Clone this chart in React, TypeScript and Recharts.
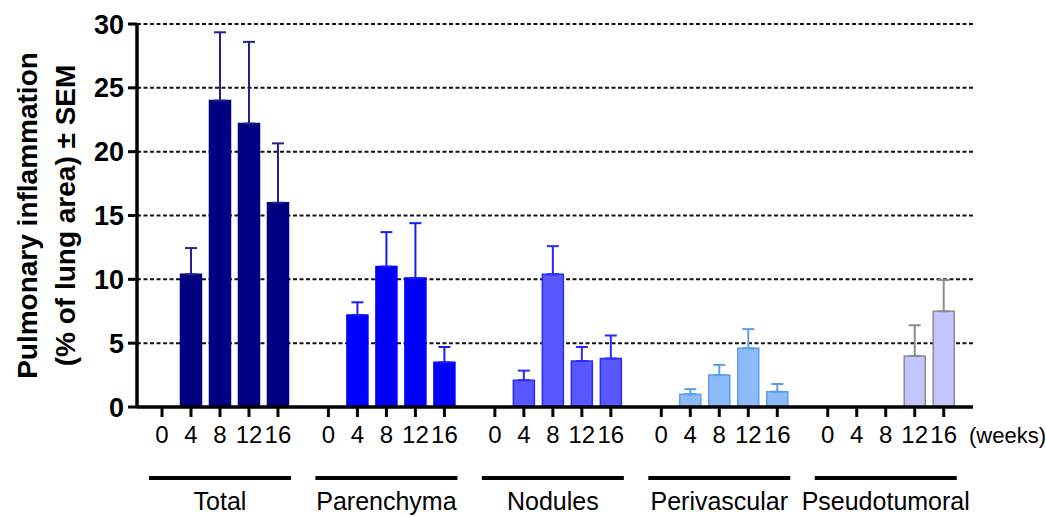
import React from "react";
import { BarChart, Bar, Cell, XAxis, YAxis, CartesianGrid, ErrorBar } from "recharts";

const weeks = ["0", "4", "8", "12", "16"];
const groups = ["Total", "Parenchyma", "Nodules", "Perivascular", "Pseudotumoral"];

// mean % of lung area, and SEM (upper error only)
const totalMean = [0, 10.4, 24.0, 22.2, 16.0];
const totalSem = [0, 2.05, 5.35, 6.4, 4.65];
const parenchymaMean = [0, 7.2, 11.0, 10.1, 3.5];
const parenchymaSem = [0, 1.0, 2.7, 4.3, 1.2];
const nodulesMean = [0, 2.1, 10.4, 3.6, 3.8];
const nodulesSem = [0, 0.75, 2.2, 1.1, 1.8];
const perivascularMean = [0, 1.0, 2.5, 4.6, 1.2];
const perivascularSem = [0, 0.4, 0.8, 1.5, 0.6];
const pseudotumoralMean = [0, 0, 0, 4.0, 7.5];
const pseudotumoralSem = [0, 0, 0, 2.4, 2.45];

const yTicks = [0, 5, 10, 15, 20, 25, 30];

const COLORS = [
  { fill: "#000080", stroke: "#000080", err: "#22228f" },
  { fill: "#0000ff", stroke: "#0000ff", err: "#1a1aff" },
  { fill: "#5858ff", stroke: "#2a2aff", err: "#2a2aff" },
  { fill: "#8dbaf8", stroke: "#5a9ef0", err: "#5a9ef0" },
  { fill: "#c4c4ff", stroke: "#8a8a98", err: "#8c8c8c" },
];

const means = [totalMean, parenchymaMean, nodulesMean, perivascularMean, pseudotumoralMean];
const sems = [totalSem, parenchymaSem, nodulesSem, perivascularSem, pseudotumoralSem];

// slots per group (5 bars + gap)
const STEP = 5.74;

const data = groups.flatMap((g, gi) =>
  weeks.map((w, wi) => {
    const row: any = { pos: gi * STEP + wi, week: w, group: g, gi, value: means[gi][wi] };
    if (sems[gi][wi] > 0) row["err" + gi] = [0, sems[gi][wi]];
    return row;
  })
);

const weekTicks = data.map((d) => d.pos);
const weekByPos = new Map(data.map((d) => [d.pos, d.week]));
const groupTicks = groups.map((_, gi) => gi * STEP + 2);
const groupByPos = new Map(groups.map((g, gi) => [gi * STEP + 2, g]));
const DOMAIN: [number, number] = [-0.862, 27.97];

const FONT = "Liberation Sans, Arial, sans-serif";

function GroupTick(props: any) {
  const { x, y, payload } = props;
  return (
    <g>
      <line x1={x - 71} x2={x + 71} y1={y + 26} y2={y + 26} stroke="#000" strokeWidth={4} />
      <text x={x} y={y + 58} textAnchor="middle" fontSize={25} fontFamily={FONT} fill="#000">
        {groupByPos.get(payload.value)}
      </text>
    </g>
  );
}

function YTitle(props: any) {
  const vb = props.viewBox || { x: 0, y: 24, width: 137, height: 383 };
  const cy = vb.y + vb.height / 2;
  const x1 = vb.x + 27;
  const x2 = vb.x + 65;
  return (
    <g fontFamily={FONT} fontWeight="bold" fontSize={28} fill="#000">
      <text x={x1} y={cy} textAnchor="middle" dominantBaseline="central" transform={`rotate(-90, ${x1}, ${cy})`}>
        Pulmonary inflammation
      </text>
      <text x={x2} y={cy} textAnchor="middle" dominantBaseline="central" transform={`rotate(-90, ${x2}, ${cy})`}>
        (% of lung area) ± SEM
      </text>
    </g>
  );
}

function WeeksLabel(props: any) {
  const vb = props.viewBox || { x: 137, y: 407, width: 836, height: 45 };
  return (
    <text x={vb.x + vb.width - 4} y={vb.y + 36} textAnchor="start" fontSize={22} fontFamily={FONT} fill="#000">
      (weeks)
    </text>
  );
}

export default function App() {
  return (
    <div style={{ position: "absolute", left: 0, top: 0, width: 1046, height: 517, background: "#fff" }}>
      <BarChart width={1046} height={517} data={data} margin={{ top: 24, right: 73, left: 0, bottom: 5 }}>
        <CartesianGrid
          vertical={false}
          stroke="#111"
          strokeWidth={2}
          strokeDasharray="4 2.5"
          horizontalValues={[5, 10, 15, 20, 25, 30]}
        />
        <XAxis
          dataKey="pos"
          type="number"
          domain={DOMAIN}
          allowDataOverflow
          ticks={weekTicks}
          interval={0}
          tickFormatter={(v: number) => weekByPos.get(v) ?? ""}
          height={45}
          tickSize={10}
          tickMargin={9}
          axisLine={{ stroke: "#000", strokeWidth: 3.5 }}
          tickLine={{ stroke: "#000", strokeWidth: 3 }}
          tick={{ fontSize: 24, fill: "#000", fontFamily: FONT }}
          label={{ content: <WeeksLabel /> }}
        />
        <XAxis
          xAxisId="g"
          dataKey="pos"
          type="number"
          domain={DOMAIN}
          allowDataOverflow
          ticks={groupTicks}
          interval={0}
          height={60}
          tickSize={0}
          tickMargin={0}
          axisLine={false}
          tickLine={false}
          tick={(p: any) => <GroupTick {...p} />}
        />
        <YAxis
          type="number"
          domain={[0, 30]}
          ticks={yTicks}
          interval={0}
          width={137}
          tickSize={9}
          tickMargin={4}
          axisLine={{ stroke: "#000", strokeWidth: 3.5 }}
          tickLine={{ stroke: "#000", strokeWidth: 3 }}
          tick={{ fontSize: 27, fontWeight: "bold", fill: "#000", fontFamily: FONT }}
          label={{ content: <YTitle /> }}
        />
        <Bar dataKey="value" barSize={21} strokeWidth={1.5} isAnimationActive={false}>
          {data.map((d, i) => (
            <Cell key={`cell-${i}`} fill={COLORS[d.gi].fill} stroke={COLORS[d.gi].stroke} />
          ))}
          {groups.map((_, gi) => (
            <ErrorBar
              key={`err-${gi}`}
              dataKey={"err" + gi}
              direction="y"
              width={6}
              strokeWidth={2}
              stroke={COLORS[gi].err}
              isAnimationActive={false}
            />
          ))}
        </Bar>
      </BarChart>
    </div>
  );
}
